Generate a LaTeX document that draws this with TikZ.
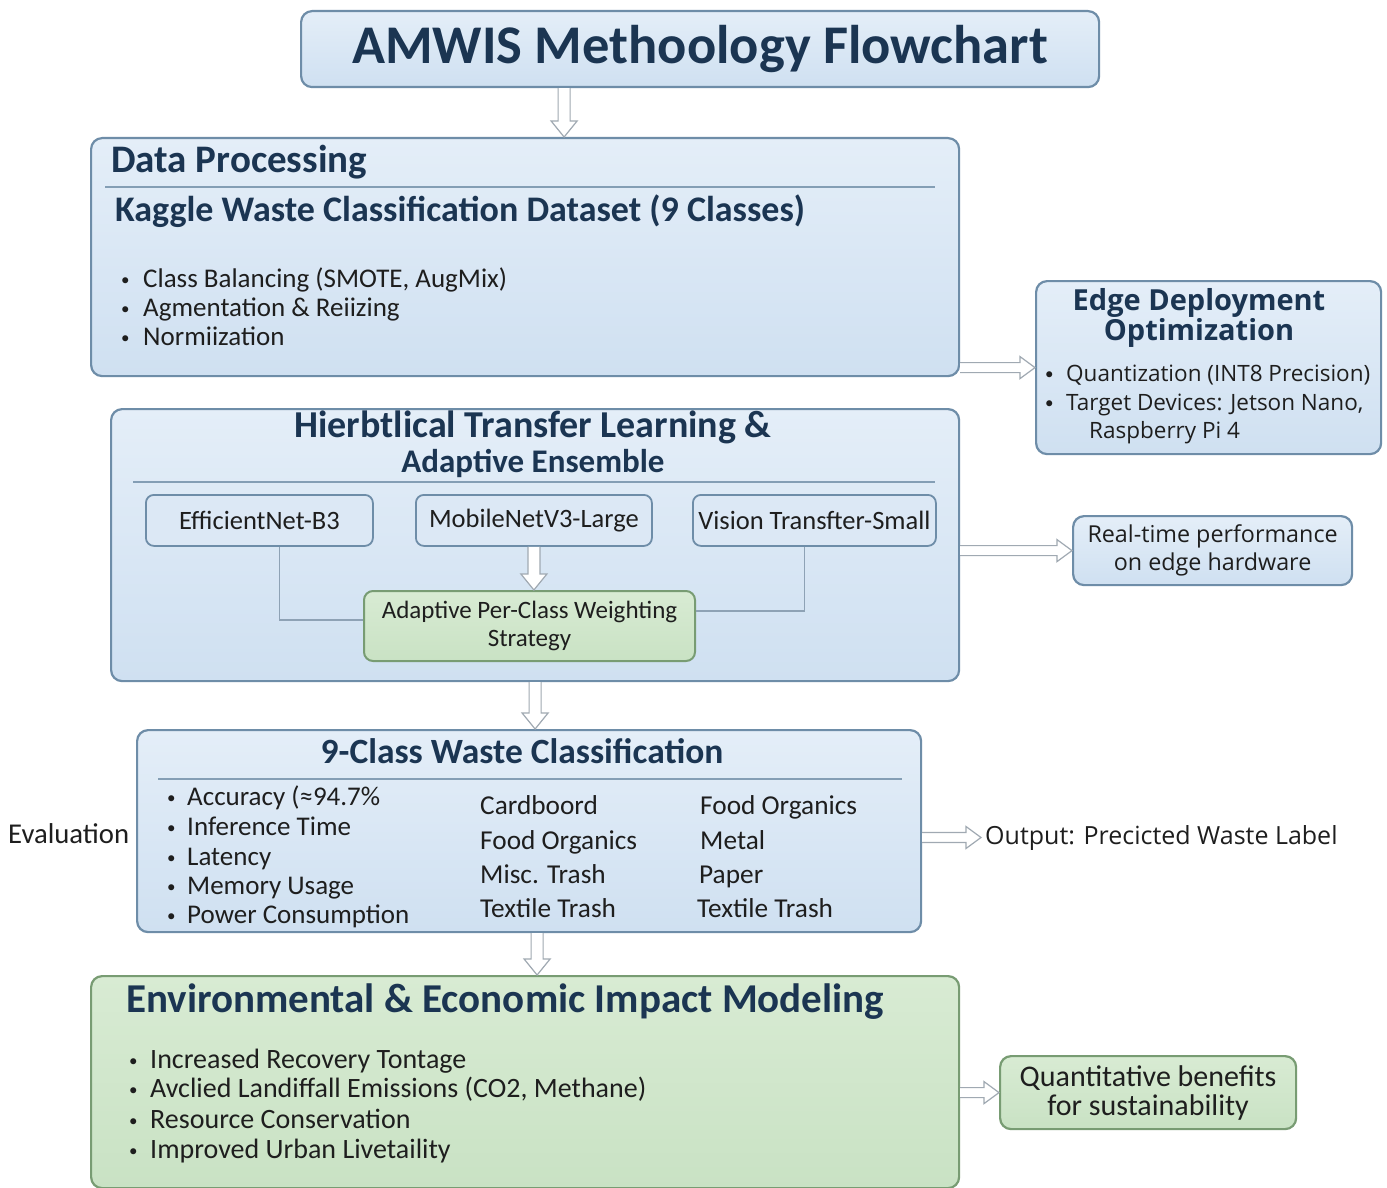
\documentclass[tikz,border=0pt]{standalone}
\usepackage{fontspec}
\setmainfont{Carlito}
\newfontfamily\osans{Open Sans}
\usetikzlibrary{calc}

\definecolor{navy}{HTML}{1B3552}
\definecolor{bluefill}{HTML}{CFE0F1}
\definecolor{bluetop}{HTML}{E4EEF8}
\definecolor{blueedge}{HTML}{6E8DA8}
\definecolor{modelfill}{HTML}{DCE8F5}
\definecolor{greenfill}{HTML}{C9E2C4}
\definecolor{greentop}{HTML}{D8EBD3}
\definecolor{greenedge}{HTML}{789C73}
\definecolor{arrowgray}{HTML}{A0A9B2}
\definecolor{linkgray}{HTML}{8EA2B5}
\definecolor{bodytext}{HTML}{1E1E1E}

\newcommand{\fs}[1]{\fontsize{#1}{#1}\selectfont}
% small list bullet in a box of the given width
\newcommand{\bul}[1]{\makebox[#1][l]{\raisebox{1.6pt}{\rmfamily\fontsize{17}{17}\selectfont•}}}

\begin{document}
\begin{tikzpicture}[x=1pt,y=-1pt,
  bluebox/.style={draw=blueedge, line width=2.2pt, rounded corners=11pt,
    top color=bluetop, bottom color=bluefill, inner sep=0pt, anchor=north west},
  greenbox/.style={draw=greenedge, line width=2.2pt, rounded corners=11pt,
    top color=greentop, bottom color=greenfill, inner sep=0pt, anchor=north west},
  modelbox/.style={draw=blueedge, line width=1.8pt, rounded corners=8pt,
    fill=modelfill, inner sep=0pt, minimum height=51pt, anchor=north west,
    text=bodytext, font=\fs{26.5}},
  head/.style={inner sep=0pt, text=navy, font=\bfseries},
  txt/.style={inner sep=0pt, anchor=base west, text=bodytext},
  rule/.style={draw=blueedge!85, line width=1.2pt},
  link/.style={draw=linkgray, line width=1.5pt},
  hollow/.style={draw=arrowgray, fill=white, line width=1.2pt, line join=miter},
  downhollow/.style={to path={let \p1=(\tikztostart), \p2=(\tikztotarget) in
    (\x1-6pt,\y1) -- (\x1-6pt,\y2+16pt) -- (\x1-13pt,\y2+16pt) -- (\x1,\y2)
    -- (\x1+13pt,\y2+16pt) -- (\x1+6pt,\y2+16pt) -- (\x1+6pt,\y1)}},
  righthollow/.style={to path={let \p1=(\tikztostart), \p2=(\tikztotarget) in
    (\x1,\y1+5pt) -- (\x2-15pt,\y1+5pt) -- (\x2-15pt,\y1+11pt) -- (\x2,\y1)
    -- (\x2-15pt,\y1-11pt) -- (\x2-15pt,\y1-5pt) -- (\x1,\y1-5pt)}}
]
\useasboundingbox (0,0) rectangle (1387,1188);
\fill[white] (0,0) rectangle (1387,1188);

% ---------- title ----------
\node[bluebox, minimum width=798pt, minimum height=76pt, text=navy,
      font=\fs{54.5}\bfseries] (title) at (300,10) {AMWIS Methoology Flowchart};

% ---------- data processing ----------
\node[bluebox, minimum width=868pt, minimum height=238pt] (dp) at (90,137) {};
\node[head, anchor=base west, font=\fs{39}\bfseries] (dph) at (111,172) {Data Processing};
\draw[rule] (105,187) -- (935,187);
\node[head, anchor=base west, font=\fs{36}\bfseries] (kag) at (115,221)
  {Kaggle Waste Classification Dataset (9 Classes)};
\node[txt, font=\fs{27}] (dp1) at (121,287) {\bul{22pt}Class Balancing (SMOTE, AugMix)};
\node[txt, font=\fs{27}] (dp2) at (121,316) {\bul{22pt}Agmentation \& Reiizing};
\node[txt, font=\fs{27}] (dp3) at (121,345) {\bul{22pt}Normiization};

% ---------- edge deployment ----------
\node[bluebox, minimum width=345pt, minimum height=173pt] (edge) at (1035,280) {};
\node[head, align=center, font=\osans\bfseries] (edh) at (1199,318)
  {\fontsize{29}{32}\selectfont Edge Deployment\\\fontsize{29}{32}\selectfont Optimization};
\node[txt, font=\osans\fs{22.5}] (ed1) at (1045,381) {\bul{21pt}Quantization (INT8 Precision)};
\node[txt, font=\osans\fs{22.5}] (ed2) at (1045,410) {\bul{21pt}Target Devices: Jetson Nano,};
\node[txt, font=\osans\fs{22.5}] (ed3) at (1089,438) {Raspberry Pi 4};

% ---------- transfer learning & ensemble ----------
\node[bluebox, minimum width=848pt, minimum height=272pt] (hier) at (110,408) {};
\node[head, align=center, font=\bfseries] (hih) at (533,444)
  {\fontsize{38}{34}\selectfont Hierbtlical Transfer Learning \&\\[4pt]\fontsize{33}{34}\selectfont Adaptive Ensemble};
\draw[rule] (133,482) -- (935,482);
\node[modelbox, minimum width=227pt] (eff) at (145,494) {EfficientNet-B3};
\node[modelbox, minimum width=236pt] (mob) at (415,494) {MobileNetV3-Large};
\node[modelbox, minimum width=243pt] (vis) at (692,494) {Vision Transfter-Small};
\node[draw=greenedge, line width=2pt, rounded corners=9pt, top color=greentop,
      bottom color=greenfill, inner sep=0pt, minimum width=331pt, minimum height=70pt,
      anchor=north west, align=center, text=bodytext,
      font=\fontsize{25}{28}\selectfont] (green) at (363,590)
  {Adaptive Per-Class Weighting\\Strategy};
\draw[link] ([xshift=20pt]eff.south) |- ([yshift=6pt]green.west);
\draw[link] ([xshift=-10pt]vis.south) |- ([yshift=15pt]green.east);
\draw[hollow] (mob.south) to[downhollow] (green.north);

% ---------- real-time ----------
\node[bluebox, minimum width=279pt, minimum height=69pt, align=center, text=bodytext,
      font=\osans\fontsize{23.3}{28}\selectfont] (rt) at (1072,515)
  {Real-time performance\\on edge hardware};

% ---------- classification ----------
\node[bluebox, minimum width=784pt, minimum height=202pt] (cls) at (136,729) {};
\node[head, anchor=base, font=\fs{35.5}\bfseries] (clh) at (522,763) {9-Class Waste Classification};
\draw[rule] (158,779) -- (902,779);
\node[txt, font=\fs{27}] (ev1) at (167,805) {\bul{20pt}Accuracy (≈94.7\%};
\node[txt, font=\fs{27}] (ev2) at (167,835) {\bul{20pt}Inference Time};
\node[txt, font=\fs{27}] (ev3) at (167,865) {\bul{20pt}Latency};
\node[txt, font=\fs{27}] (ev4) at (167,894) {\bul{20pt}Memory Usage};
\node[txt, font=\fs{27}] (ev5) at (167,923) {\bul{20pt}Power Consumption};
\node[txt, font=\fs{27.3}] (ca1) at (480,814) {Cardboord};
\node[txt, font=\fs{27.3}] (ca2) at (480,849) {Food Organics};
\node[txt, font=\fs{27.3}] (ca3) at (480,883) {Misc. Trash};
\node[txt, font=\fs{27.3}] (ca4) at (480,917) {Textile Trash};
\node[txt, font=\fs{27.3}] (cb1) at (700,814) {Food Organics};
\node[txt, font=\fs{27.3}] (cb2) at (700,849) {Metal};
\node[txt, font=\fs{27.3}] (cb3) at (699,883) {Paper};
\node[txt, font=\fs{27.3}] (cb4) at (697,917) {Textile Trash};
\node[txt, font=\fs{28.7}] (evl) at (8,843) {Evaluation};
\node[txt, inner xsep=4pt, font=\osans\fs{25}] (out) at (981,844) {Output: Precicted Waste Label};

% ---------- impact ----------
\node[greenbox, minimum width=868pt, minimum height=212pt] (imp) at (90,975) {};
\node[head, anchor=base west, font=\fs{41}\bfseries] (imh) at (126,1012)
  {Environmental \& Economic Impact Modeling};
\node[txt, font=\fs{28}] (im1) at (129,1068) {\bul{21pt}Increased Recovery Tontage};
\node[txt, font=\fs{28}] (im2) at (129,1097) {\bul{21pt}Avclied Landiffall Emissions (CO2, Methane)};
\node[txt, font=\fs{28}] (im3) at (129,1128) {\bul{21pt}Resource Conservation};
\node[txt, font=\fs{28}] (im4) at (129,1158) {\bul{21pt}Improved Urban Livetaility};
\node[greenbox, minimum width=296pt, minimum height=73pt, align=center, text=bodytext,
      font=\fontsize{30}{29}\selectfont] (quant) at (999,1055)
  {Quantitative benefits\\for sustainability};

% ---------- flow arrows ----------
\draw[hollow] ([xshift=-136pt]title.south) to[downhollow] (dp.north);
\draw[hollow] (hier.south) to[downhollow] (cls.north);
\draw[hollow] ([xshift=8pt]cls.south) to[downhollow] (imp.north);
\draw[hollow] (dp.east |- edge.west) to[righthollow] (edge.west);
\draw[hollow] (hier.east |- rt.west) to[righthollow] (rt.west);
\draw[hollow] (cls.east |- out.west) to[righthollow] (out.west);
\draw[hollow] (imp.east |- quant.west) to[righthollow] (quant.west);
\end{tikzpicture}
\end{document}
